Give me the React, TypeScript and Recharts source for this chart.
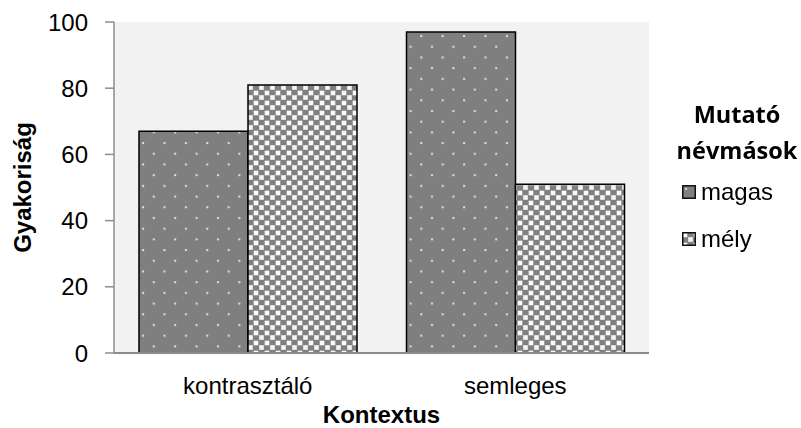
import { Bar, BarChart, CartesianGrid, Label, XAxis, YAxis } from "recharts";

const contexts = ["kontrasztáló", "semleges"];
const magas = [67, 97];
const mely = [81, 51];
const yTicks = [0, 20, 40, 60, 80, 100];
const seriesNames = ["magas", "mély"];
const seriesFills = ["url(#dots)", "url(#confetti)"];

const data = contexts.map((c, i) => ({ name: c, magas: magas[i], mely: mely[i] }));

const font = "'Liberation Sans', Arial, sans-serif";

function PatternDefs() {
  return (
    <svg width={0} height={0} style={{ position: "absolute" }}>
      <defs>
        <pattern id="dots" width="21.4" height="21.4" patternUnits="userSpaceOnUse">
          <rect width="21.4" height="21.4" fill="#7f7f7f" />
          <rect x="3" y="3" width="2" height="2" fill="#e2e2e2" />
          <rect x="13.7" y="13.7" width="2" height="2" fill="#e2e2e2" />
        </pattern>
        <pattern id="confetti" width="11" height="10" patternUnits="userSpaceOnUse">
          <rect width="11" height="10" fill="#808080" />
          <rect x="0.5" y="0.5" width="5" height="5" fill="#c8c8c8" />
          <rect x="1" y="1" width="4" height="4" fill="#fafafa" />
          <rect x="6" y="5" width="5" height="5" fill="#c8c8c8" />
          <rect x="6.5" y="5.5" width="4" height="4" fill="#f5f5f5" />
        </pattern>
      </defs>
    </svg>
  );
}

function LegendBox() {
  return (
    <div style={{ position: "absolute", left: 670, top: 96, width: 134, fontFamily: font, textAlign: "center" }}>
      <div style={{ fontFamily: "'Open Sans', sans-serif", fontWeight: 700, fontSize: 23.5, lineHeight: "36px" }}>
        Mutató
        <br />
        névmások
      </div>
      {seriesNames.map((n, i) => (
        <div key={n} style={{ display: "flex", alignItems: "center", marginTop: i === 0 ? 10 : 19, marginLeft: 12 }}>
          <svg width={14} height={14} style={{ marginRight: 5 }}>
            <rect x={0.75} y={0.75} width={12.5} height={12.5} fill={seriesFills[i]} stroke="#111" strokeWidth={1.5} />
          </svg>
          <span style={{ fontSize: 24, lineHeight: "28px" }}>{n}</span>
        </div>
      ))}
    </div>
  );
}

export default function App() {
  return (
    <div style={{ position: "fixed", left: 0, top: 0, width: 801, height: 428, background: "#fff" }}>
      <PatternDefs />
      <BarChart
        width={801}
        height={428}
        data={data}
        margin={{ top: 22, right: 152, bottom: 0, left: 0 }}
        barCategoryGap={25}
        barGap={0}
      >
        <CartesianGrid fill="#f2f2f2" stroke="none" horizontal={false} vertical={false} />
        <XAxis
          dataKey="name"
          tickLine={false}
          tickSize={0}
          tickMargin={24}
          axisLine={{ stroke: "#8c8c8c", strokeWidth: 2 }}
          tick={{ fill: "#000", fontSize: 24, fontFamily: font }}
          height={75}
        >
          <Label
            content={({ viewBox }: any) => (
              <text
                x={viewBox.x + viewBox.width / 2}
                y={423}
                textAnchor="middle"
                fontFamily={font}
                fontWeight={700}
                fontSize={24}
                fill="#000"
              >
                Kontextus
              </text>
            )}
          />
        </XAxis>
        <YAxis
          width={114}
          domain={[0, 100]}
          ticks={yTicks}
          interval={0}
          tickSize={9}
          tickMargin={17}
          axisLine={{ stroke: "#8c8c8c", strokeWidth: 1.5 }}
          tickLine={{ stroke: "#8c8c8c", strokeWidth: 1.5 }}
          tick={{ fill: "#000", fontSize: 24, fontFamily: font }}
        >
          <Label
            content={({ viewBox }: any) => (
              <text
                x={0}
                y={0}
                transform={`translate(31, ${viewBox.y + viewBox.height / 2}) rotate(-90)`}
                textAnchor="middle"
                fontFamily={font}
                fontWeight={700}
                fontSize={24}
                fill="#000"
              >
                Gyakoriság
              </text>
            )}
          />
        </YAxis>
        <Bar dataKey="magas" name={seriesNames[0]} fill={seriesFills[0]} stroke="#000" strokeWidth={1.5} isAnimationActive={false} />
        <Bar dataKey="mely" name={seriesNames[1]} fill={seriesFills[1]} stroke="#000" strokeWidth={1.5} isAnimationActive={false} />
      </BarChart>
      <LegendBox />
    </div>
  );
}
